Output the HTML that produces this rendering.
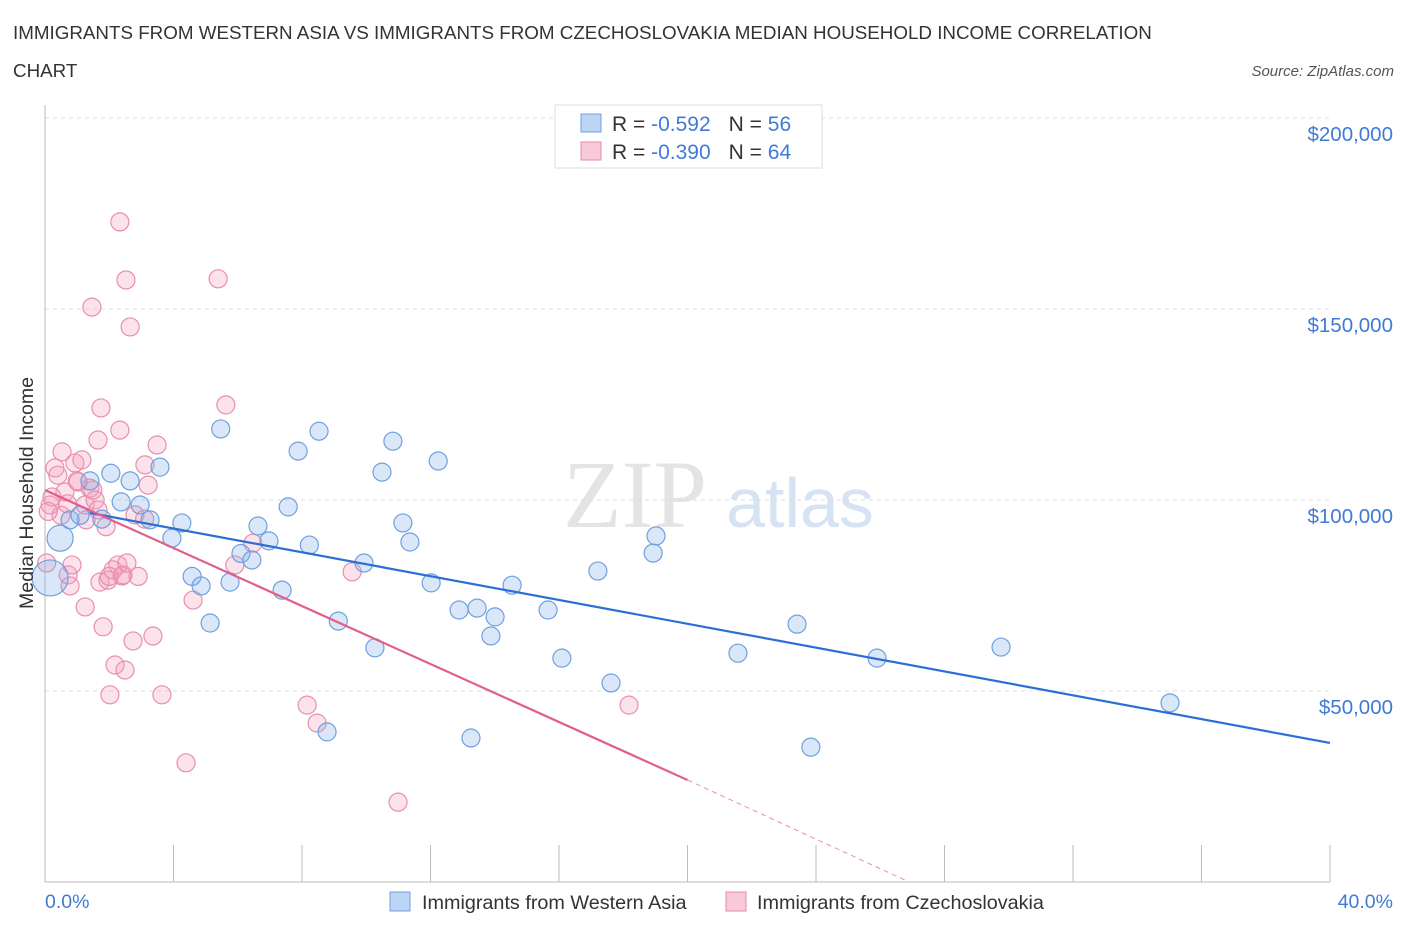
<!DOCTYPE html>
<html><head><meta charset="utf-8"><style>
body{margin:0;background:#fff;font-family:"Liberation Sans",sans-serif;}
svg{display:block}
</style></head><body>
<svg id="c" width="1406" height="930">
<text x="13" y="39" font-size="18.8" fill="#333">IMMIGRANTS FROM WESTERN ASIA VS IMMIGRANTS FROM CZECHOSLOVAKIA MEDIAN HOUSEHOLD INCOME CORRELATION</text>
<text x="13" y="77" font-size="18.8" fill="#333">CHART</text>
<text x="1394" y="76" font-size="15" fill="#555" font-style="italic" text-anchor="end">Source: ZipAtlas.com</text>
<text x="635" y="527" font-size="96" fill="#e4e4e4" font-family="Liberation Serif,serif" text-anchor="middle">ZIP</text>
<text x="800" y="527" font-size="70" fill="#d6e3f3" text-anchor="middle">atlas</text>
<g id="grid"></g><g id="marks"></g>
<text x="33" y="493" font-size="19.5" fill="#333" text-anchor="middle" transform="rotate(-90 33 493)">Median Household Income</text>
<text x="45" y="908" font-size="19.5" fill="#3f7bd6">0.0%</text>
<text x="1393" y="908" font-size="19.5" fill="#3f7bd6" text-anchor="end">40.0%</text>
<g>
<rect x="555" y="105" width="267" height="63" fill="#fff" stroke="#ddd"/>
<rect x="581" y="114" width="20" height="18" fill="#bcd5f5" stroke="#6fa0de"/>
<rect x="581" y="142" width="20" height="18" fill="#f8c9d7" stroke="#e68aa8"/>
<text x="612" y="131" font-size="21" fill="#333">R = <tspan fill="#3f7bd6">-0.592</tspan><tspan dx="18">N = </tspan><tspan fill="#3f7bd6">56</tspan></text>
<text x="612" y="159" font-size="21" fill="#333">R = <tspan fill="#3f7bd6">-0.390</tspan><tspan dx="18">N = </tspan><tspan fill="#3f7bd6">64</tspan></text>
</g>
<g>
<rect x="390" y="892" width="20" height="19" fill="#bcd5f5" stroke="#6fa0de"/>
<text x="422" y="909" font-size="19.8" fill="#333">Immigrants from Western Asia</text>
<rect x="726" y="892" width="20" height="19" fill="#f8c9d7" stroke="#e68aa8"/>
<text x="757" y="909" font-size="19.8" fill="#333">Immigrants from Czechoslovakia</text>
</g>
</svg>
<script>
const yTicks=[50,100,150,200];
const yTickLabels=["$50,000","$100,000","$150,000","$200,000"];
const xTicks=[0,4,8,12,16,20,24,28,32,36,40];
const blueX=[0.16,0.47,0.78,1.09,1.4,1.77,2.05,2.37,2.65,2.96,3.27,3.58,3.95,4.26,4.58,4.86,5.14,5.47,5.76,6.1,6.44,6.63,6.97,7.38,7.57,7.88,8.23,8.53,8.78,9.13,9.93,10.27,10.49,10.83,11.14,11.36,12.02,12.24,12.89,13.26,13.45,13.88,14.01,14.54,15.66,16.09,17.21,17.62,18.93,19.02,21.57,23.41,23.84,25.9,29.76,35.02];
const blueY=[79.6,90,94.8,96,105,95,107,99.5,105,98.7,94.8,108.6,90,94,80,77.5,67.8,118.6,78.5,86,84.3,93.2,89.3,76.4,98.2,112.8,88.2,118,39.3,68.3,83.5,61.3,107.3,115.4,94,89,78.3,110.2,71.2,37.7,71.7,64.4,69.4,77.7,71.2,58.6,81.4,52.1,86.1,90.6,59.9,67.5,35.3,58.6,61.5,46.9];
const blueR=[18,13,9,9,9,9,9,9,9,9,9,9,9,9,9,9,9,9,9,9,9,9,9,9,9,9,9,9,9,9,9,9,9,9,9,9,9,9,9,9,9,9,9,9,9,9,9,9,9,9,9,9,9,9,9,9];
const pinkX=[0.16,0.22,0.31,0.4,0.53,0.62,0.72,0.78,0.84,0.93,1.03,1.15,1.25,1.28,1.4,1.49,1.56,1.65,1.71,1.25,1.46,1.65,1.74,1.81,1.96,2.02,2.12,2.18,2.27,2.33,2.4,2.43,2.49,2.55,2.52,2.33,2.65,2.74,2.8,3.11,3.21,3.36,3.49,3.64,4.39,4.61,5.39,5.63,5.91,6.47,8.16,8.47,9.56,10.99,18.18,0.05,0.5,1.9,2.9,0.1,1.0,2.0,3.1,0.7];
const pinkY=[98.7,100.8,108.4,106.5,112.6,102.1,80.4,77.5,83,109.7,104.7,110.5,98.7,94.8,103.1,102.6,100,97.4,78.5,72,150.5,115.7,124.1,66.8,79,49,81.7,56.8,83,118.3,80.1,80.4,55.5,83.5,157.6,172.8,145.3,63.1,96.1,109.2,103.9,64.4,114.4,49,31.2,73.8,157.9,124.9,83,88.7,46.3,41.6,81.2,20.9,46.3,83.5,96,93,80,97,105,80,95,99];
const blueTrend=[1.4,96.6,40,36.4];
const pinkTrend=[0,102.6,20,26.7,26.9,0];
const X=v=>45+v*32.125, Y=v=>882-v*3.82;
const ns="http://www.w3.org/2000/svg";
function mk(t,a,p){const e=document.createElementNS(ns,t);for(const k in a)e.setAttribute(k,a[k]);p.appendChild(e);return e;}
const g=document.getElementById('grid'),m=document.getElementById('marks');
yTicks.forEach((v,i)=>{
 const l=mk('line',{x1:45,x2:1330,y1:Y(v),y2:Y(v),stroke:'#ddd','stroke-dasharray':'4,4'},g);
 
 
 const t=mk('text',{x:1393,y:Y(v)+23,'font-size':20.5,fill:'#3f7bd6','text-anchor':'end'},g);
 t.textContent=yTickLabels[i];
 
 
});
mk('line',{x1:45,x2:45,y1:105,y2:882,stroke:'#bbb'},g);
mk('line',{x1:45,x2:1330,y1:882,y2:882,stroke:'#bbb'},g);
xTicks.forEach(v=>{
 const l=mk('line',{x1:X(v),x2:X(v),y1:845,y2:882,stroke:'#bbb'},g);
 
 
});
pinkX.forEach((v,i)=>{
 const c=mk('circle',{cx:X(v),cy:Y(pinkY[i]),r:9,fill:'rgba(244,160,188,0.3)',stroke:'#e88fad','stroke-width':1.2},m);
 
 
});
blueX.forEach((v,i)=>{
 const c=mk('circle',{cx:X(v),cy:Y(blueY[i]),r:blueR[i],fill:'rgba(130,176,235,0.3)',stroke:'#6fa0de','stroke-width':1.2},m);
 
 
});
const bl=mk('line',{x1:X(blueTrend[0]),y1:Y(blueTrend[1]),x2:X(blueTrend[2]),y2:Y(blueTrend[3]),stroke:'#2a6fd6','stroke-width':2.2},m);


const pl=mk('line',{x1:X(pinkTrend[0]),y1:Y(pinkTrend[1]),x2:X(pinkTrend[2]),y2:Y(pinkTrend[3]),stroke:'#e0608a','stroke-width':2.2},m);


const pd=mk('line',{x1:X(pinkTrend[2]),y1:Y(pinkTrend[3]),x2:X(pinkTrend[4]),y2:Y(pinkTrend[5]),stroke:'#e88fad','stroke-width':1,'stroke-dasharray':'5,4'},m);


</script>
</body></html>
